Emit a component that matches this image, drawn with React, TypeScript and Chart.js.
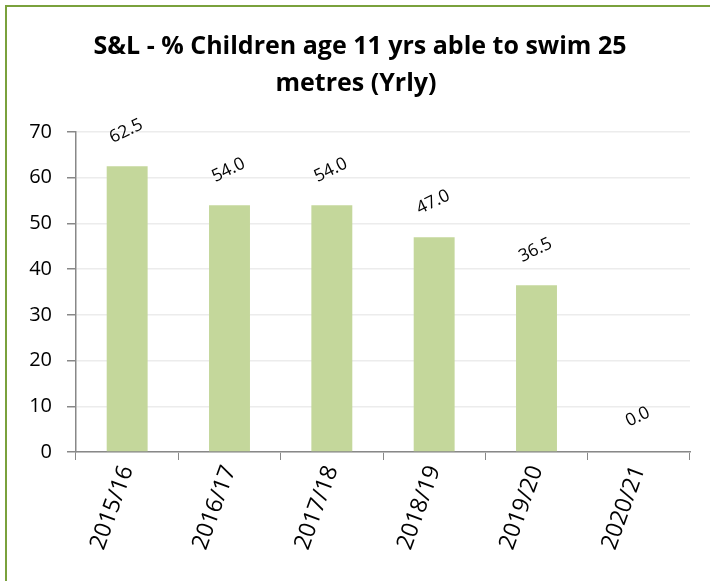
import React, { useEffect, useRef } from "react";
import { Chart, registerables } from "chart.js";

Chart.register(...registerables);

const categories = ["2015/16", "2016/17", "2017/18", "2018/19", "2019/20", "2020/21"];
const values = [62.5, 54.0, 54.0, 47.0, 36.5, 0.0];
const titleLines = ["S&L - % Children age 11 yrs able to swim 25", "metres (Yrly)"];
const yTicks = [0, 10, 20, 30, 40, 50, 60, 70];

const FONT = "'Open Sans', Lato, sans-serif";

const dataLabelPlugin = {
  id: "dataLabels",
  afterDatasetsDraw(chart: any) {
    const ctx = chart.ctx;
    const meta = chart.getDatasetMeta(0);
    ctx.save();
    ctx.font = `17.5px ${FONT}`;
    ctx.fillStyle = "#000000";
    ctx.textAlign = "center";
    ctx.textBaseline = "middle";
    meta.data.forEach((bar: any, i: number) => {
      const v = chart.data.datasets[0].data[i] as number;
      ctx.save();
      ctx.translate(bar.x - 1, bar.y - 35);
      ctx.rotate((-26 * Math.PI) / 180);
      ctx.fillText(v.toFixed(1), 0, 0);
      ctx.restore();
    });
    ctx.restore();
  },
};

const titlePlugin = {
  id: "customTitle",
  afterDraw(chart: any) {
    const ctx = chart.ctx;
    ctx.save();
    ctx.font = `bold 25px ${FONT}`;
    ctx.fillStyle = "#000000";
    ctx.textAlign = "center";
    ctx.textBaseline = "middle";
    ctx.fillText(titleLines[0], 360, 47);
    ctx.fillText(titleLines[1], 356, 84);
    ctx.restore();
  },
};

export default function App() {
  const canvasRef = useRef<HTMLCanvasElement | null>(null);

  useEffect(() => {
    const canvas = canvasRef.current;
    if (!canvas) return;
    const chart = new Chart(canvas, {
      type: "bar",
      data: {
        labels: categories,
        datasets: [
          {
            data: values,
            backgroundColor: "#c4d79b",
            borderWidth: 0,
            categoryPercentage: 0.4,
            barPercentage: 1.0,
          },
        ],
      },
      options: {
        responsive: false,
        animation: false,
        maintainAspectRatio: false,
        layout: { padding: { left: 0, right: 20, top: 0, bottom: 0 } },
        plugins: {
          legend: { display: false },
          tooltip: { enabled: false },
          title: {
            display: true,
            text: titleLines,
            color: "rgba(0,0,0,0)",
            font: { family: FONT, size: 25, weight: "bold", lineHeight: 1.5 },
            padding: { top: 28, bottom: 29 },
          },
        },
        scales: {
          x: {
            grid: {
              display: true,
              drawOnChartArea: false,
              drawTicks: true,
              tickLength: 8,
              tickColor: "#888888",
              offset: true,
            },
            border: { display: true, color: "#888888", width: 1.5 },
            ticks: {
              color: "#000000",
              font: { family: FONT, size: 23 },
              minRotation: 70,
              maxRotation: 70,
              padding: 2,
            },
            afterFit(scale: any) {
              scale.height = 129;
            },
          },
          y: {
            min: 0,
            max: 70,
            afterBuildTicks(scale: any) {
              scale.ticks = yTicks.map((v) => ({ value: v }));
            },
            grid: {
              color: "#ececec",
              lineWidth: 1.5,
              drawTicks: true,
              tickLength: 9,
              tickColor: "#888888",
            },
            border: { display: true, color: "#888888", width: 1.5 },
            ticks: {
              color: "#000000",
              font: { family: FONT, size: 20 },
              padding: 15,
            },
            afterFit(scale: any) {
              scale.width = 76;
            },
          },
        },
      },
      plugins: [dataLabelPlugin, titlePlugin],
    });
    return () => chart.destroy();
  }, []);

  return (
    <div style={{ position: "absolute", left: 0, top: 0, width: 710, height: 581, overflow: "hidden", background: "#ffffff" }}>
      <div
        style={{
          position: "absolute",
          left: 5,
          top: 5,
          width: 720,
          height: 700,
          borderLeft: "2px solid #7aa13c",
          borderTop: "2px solid #7aa13c",
          boxSizing: "border-box",
        }}
      />
      <canvas ref={canvasRef} width={710} height={581} style={{ position: "absolute", left: 0, top: 0 }} />
    </div>
  );
}
